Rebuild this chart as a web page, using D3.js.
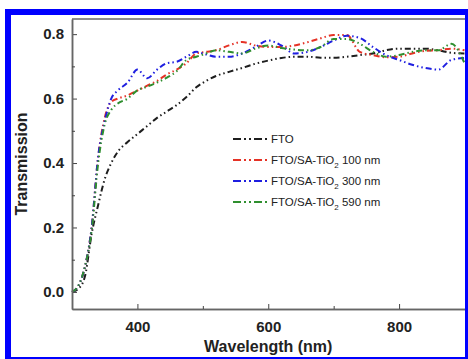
<!DOCTYPE html>
<html>
<head>
<meta charset="utf-8">
<script src="https://cdn.jsdelivr.net/npm/d3@7"></script>
<style>
  body { margin: 0; background: #fff; }
  text { font-family: "Liberation Sans", Arial, sans-serif; }
</style>
</head>
<body>
<script>
const width = 468;
const height = 359;

// wavelength grid (nm)
const wavelength = [300, 310, 320, 330, 340, 350, 360, 370, 385, 400, 415, 430, 445, 460, 475, 490, 505, 520,
    540, 560, 580, 600, 620, 640, 660, 680, 700, 720, 740, 760, 780, 800, 820, 840, 860, 880, 900];

const fto = [0.0, 0.01, 0.05, 0.18, 0.27, 0.35, 0.4, 0.435, 0.465, 0.49, 0.515, 0.54, 0.56, 0.58, 0.605, 0.635, 0.655, 0.67,
    0.683, 0.695, 0.708, 0.718, 0.726, 0.73, 0.73, 0.727, 0.727, 0.73, 0.735, 0.74, 0.75, 0.755, 0.755, 0.755, 0.75, 0.742, 0.74];
const tio100 = [0.0, 0.02, 0.08, 0.2, 0.42, 0.54, 0.59, 0.6, 0.61, 0.625, 0.64, 0.655, 0.675, 0.69, 0.71, 0.74, 0.745, 0.75,
    0.765, 0.776, 0.765, 0.76, 0.76, 0.765, 0.775, 0.787, 0.797, 0.797, 0.745, 0.735, 0.728, 0.73, 0.74, 0.748, 0.75, 0.755, 0.75];
const tio300 = [0.0, 0.02, 0.08, 0.2, 0.42, 0.53, 0.6, 0.625, 0.65, 0.69, 0.663, 0.69, 0.71, 0.714, 0.73, 0.745, 0.737, 0.73,
    0.73, 0.74, 0.76, 0.78, 0.765, 0.74, 0.745, 0.76, 0.78, 0.795, 0.788, 0.76, 0.735, 0.72, 0.705, 0.695, 0.69, 0.72, 0.726];
const tio590 = [0.0, 0.02, 0.08, 0.19, 0.4, 0.52, 0.565, 0.585, 0.6, 0.626, 0.637, 0.65, 0.665, 0.685, 0.72, 0.73, 0.74, 0.75,
    0.745, 0.74, 0.755, 0.765, 0.757, 0.752, 0.75, 0.76, 0.785, 0.785, 0.77, 0.745, 0.73, 0.735, 0.745, 0.75, 0.75, 0.77, 0.71];

const seriesNames = ['FTO', 'FTO/SA-TiO|2| 100 nm', 'FTO/SA-TiO|2| 300 nm', 'FTO/SA-TiO|2| 590 nm'];
const seriesValues = [fto, tio100, tio300, tio590];
const seriesColors = ['#1e1e1e', '#e53226', '#1f1fe0', '#2f8f2f'];

const xTicks = [400, 600, 800];
const xMinor = [500, 700];
const yTicks = [0.0, 0.2, 0.4, 0.6, 0.8];
const yMinor = [0.1, 0.3, 0.5, 0.7];

const svg = d3.select('body').append('svg')
    .attr('width', width)
    .attr('height', height);

const x = d3.scaleLinear().domain([300, 900]).range([72, 464.5]);
const y = d3.scaleLinear().domain([-0.053, 0.847]).range([309, 19]);

const dash = '6,3,1.5,3,1.5,3';

// frame top line
svg.append('line')
    .attr('x1', 72).attr('x2', 466).attr('y1', 19).attr('y2', 19)
    .attr('stroke', '#666').attr('stroke-width', 1.5);

// curves
const line = d3.line()
    .x((d, i) => x(wavelength[i]))
    .y(d => y(d))
    .curve(d3.curveMonotoneX);

seriesValues.forEach((vals, k) => {
    svg.append('path')
        .attr('d', line(vals))
        .attr('fill', 'none')
        .attr('stroke', seriesColors[k])
        .attr('stroke-width', 2)
        .attr('stroke-dasharray', dash);
});

// axes
svg.append('g')
    .attr('transform', 'translate(0,309)')
    .call(d3.axisBottom(x).tickValues(xTicks).tickSizeInner(-5).tickSizeOuter(0).tickPadding(12).tickFormat(d3.format('d')));
svg.append('g')
    .attr('transform', 'translate(0,309)')
    .call(d3.axisBottom(x).tickValues(xMinor).tickSizeInner(-3).tickSizeOuter(0).tickFormat(''));

svg.append('g')
    .attr('transform', 'translate(72,0)')
    .call(d3.axisLeft(y).tickValues(yTicks).tickSizeInner(-5).tickSizeOuter(0).tickPadding(8).tickFormat(d3.format('.1f')));
svg.append('g')
    .attr('transform', 'translate(72,0)')
    .call(d3.axisLeft(y).tickValues(yMinor).tickSizeInner(-3).tickSizeOuter(0).tickFormat(''));

svg.selectAll('.domain').attr('stroke', '#666').attr('stroke-width', 1.5);
svg.selectAll('.tick line').attr('stroke', '#444');
svg.selectAll('.tick text')
    .attr('font-family', '"Liberation Sans", Arial, sans-serif')
    .attr('font-size', 15)
    .attr('font-weight', 'bold')
    .attr('fill', '#222');

// axis titles
svg.append('text')
    .attr('x', x(600))
    .attr('y', 352)
    .attr('text-anchor', 'middle')
    .attr('font-size', 16)
    .attr('font-weight', 'bold')
    .attr('fill', '#222')
    .text('Wavelength (nm)');

svg.append('text')
    .attr('transform', 'translate(27,164) rotate(-90)')
    .attr('text-anchor', 'middle')
    .attr('font-size', 16)
    .attr('font-weight', 'bold')
    .attr('fill', '#222')
    .text('Transmission');

// legend
const legend = svg.append('g');
seriesNames.forEach((name, k) => {
    const ly = 139 + k * 21;
    legend.append('line')
        .attr('x1', 233).attr('x2', 268).attr('y1', ly).attr('y2', ly)
        .attr('stroke', seriesColors[k])
        .attr('stroke-width', 2)
        .attr('stroke-dasharray', '8,3,2,3,2,3');
    const t = legend.append('text')
        .attr('x', 271).attr('y', ly + 4)
        .attr('font-size', 11.5)
        .attr('fill', '#222');
    name.split('|').forEach((part, j) => {
        const s = t.append('tspan').text(part);
        if (j === 1) s.attr('font-size', 8).attr('dy', 4);
        if (j === 2) s.attr('dy', -4);
    });
});

// blue border
svg.append('rect')
    .attr('x', 8).attr('y', 12)
    .attr('width', 460).attr('height', 348)
    .attr('fill', 'none')
    .attr('stroke', '#0000ff')
    .attr('stroke-width', 6);
</script>
</body>
</html>
